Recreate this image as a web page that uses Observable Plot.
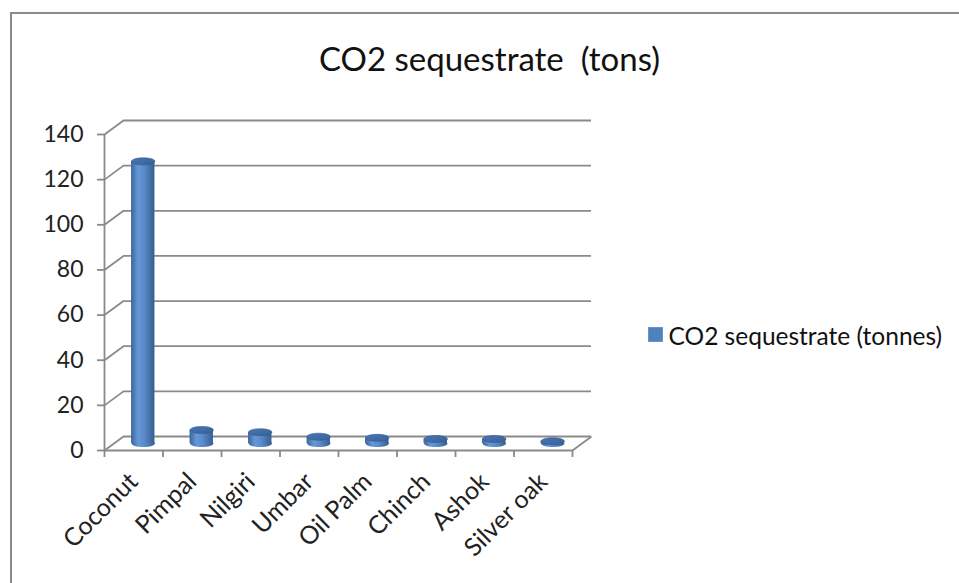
<!DOCTYPE html>
<html>
<head>
<meta charset="utf-8">
<script src="https://cdn.jsdelivr.net/npm/d3@7"></script>
<script src="https://cdn.jsdelivr.net/npm/@observablehq/plot@0.6"></script>
<style>
  html, body { margin: 0; padding: 0; background: #fff; }
  #wrap { position: relative; width: 959px; height: 583px; overflow: hidden; }
  #border { position: absolute; left: 10px; top: 12px; width: 960px; height: 580px;
            border-top: 2.5px solid #8a8a8a; border-left: 2.5px solid #8a8a8a; box-sizing: border-box; pointer-events: none; }
  #wrap svg { position: absolute; left: 0; top: 0; }
</style>
</head>
<body>
<div id="wrap"><div id="border"></div></div>
<script>
const categories = ["Coconut", "Pimpal", "Nilgiri", "Umbar", "Oil Palm", "Chinch", "Ashok", "Silver oak"];
const values = [125, 6, 5, 3, 2.5, 2, 2, 1];
const yTicks = [0, 20, 40, 60, 80, 100, 120, 140];
const title = "CO2 sequestrate  (tons)";
const seriesName = "CO2 sequestrate (tonnes)";

const data = categories.map((c, i) => ({cat: c, i, value: values[i]}));
const bounds = d3.range(categories.length + 1);

// depth offsets (3-D look)
const backDx = 19, backDy = -14, midDx = 9.5, midDy = -7;
const grid = "#8a8a8a";
const font = "Lato, 'Open Sans', sans-serif";

const ellipse = {
  draw(ctx, size) {
    const r = Math.sqrt(size / Math.PI), rx = r, ry = r * 0.3, k = 0.5523;
    ctx.moveTo(rx, 0);
    ctx.bezierCurveTo(rx, ry * k, rx * k, ry, 0, ry);
    ctx.bezierCurveTo(-rx * k, ry, -rx, ry * k, -rx, 0);
    ctx.bezierCurveTo(-rx, -ry * k, -rx * k, -ry, 0, -ry);
    ctx.bezierCurveTo(rx * k, -ry, rx, -ry * k, rx, 0);
    ctx.closePath();
  }
};

function defs() {
  const ns = "http://www.w3.org/2000/svg";
  const d = document.createElementNS(ns, "defs");
  d.innerHTML = `
    <linearGradient id="cyl" x1="0" x2="1" y1="0" y2="0">
      <stop offset="0" stop-color="#3d659c"/>
      <stop offset="0.3" stop-color="#6598d6"/>
      <stop offset="0.55" stop-color="#5a8bcb"/>
      <stop offset="1" stop-color="#385d90"/>
    </linearGradient>
    <linearGradient id="cap" x1="0" x2="1" y1="0" y2="1">
      <stop offset="0" stop-color="#4a78b4"/>
      <stop offset="1" stop-color="#365f97"/>
    </linearGradient>`;
  return d;
}

function diagonal() {
  return function(index, scales, values, dims, ctx, next) {
    const g = next(index, scales, values, dims, ctx);
    d3.select(g).selectAll("path").attr("d", function() {
      const m = this.getAttribute("d").match(/M([\d.\-]+),([\d.\-]+)/);
      const x = +m[1], y = +m[2];
      return `M${x},${y}L${x + backDx},${y + backDy}`;
    });
    return g;
  };
}

const chart = Plot.plot({
  width: 959,
  height: 583,
  marginLeft: 104,
  marginRight: 387,
  marginTop: 134,
  marginBottom: 133,
  style: {fontFamily: font, background: "transparent", overflow: "visible"},
  x: {type: "linear", domain: [0, categories.length], axis: null},
  y: {domain: [0, 140], axis: null},
  marks: [
    defs,
    // back wall gridlines
    Plot.ruleY(yTicks, {y: d => d, x1: 0, x2: categories.length, dx: backDx, dy: backDy, stroke: grid, strokeWidth: 1.8}),
    // left wall diagonals
    Plot.link(yTicks, {x1: 0, x2: 0, y1: d => d, y2: d => d, stroke: grid, strokeWidth: 1.8, render: diagonal()}),
    // floor right diagonal
    Plot.link([0], {x1: categories.length, x2: categories.length, y1: 0, y2: 0, stroke: grid, strokeWidth: 1.8, render: diagonal()}),
    // front floor edge and front y axis line
    Plot.ruleY([0], {x1: 0, x2: categories.length, stroke: grid, strokeWidth: 1.8}),
    Plot.ruleX([0], {y1: 0, y2: 140, stroke: grid, strokeWidth: 1.8}),
    // x tick marks
    Plot.ruleX(bounds, {x: d => d, y1: 0, y2: 0, insetBottom: -7, stroke: grid, strokeWidth: 1.8}),
    // y ticks and labels
    Plot.axisY({ticks: yTicks, tickSize: 7, tickPadding: 14, stroke: grid, strokeWidth: 1.8, fill: "#222", fontSize: 23, anchor: "left", label: null}),
    // cylinders: bottom, body, top
    Plot.dot(data, {x: d => d.i + 0.5, y: 0, r: 11.7, symbol: ellipse, fill: "url(#cyl)", stroke: "none", dx: midDx, dy: midDy}),
    Plot.rectY(data, {x1: d => d.i + 0.3, x2: d => d.i + 0.7, y1: 0, y2: "value", fill: "url(#cyl)", dx: midDx, dy: midDy}),
    Plot.dot(data, {x: d => d.i + 0.5, y: "value", r: 11.7, symbol: ellipse, fill: "url(#cap)", stroke: "#335a8e", strokeWidth: 0.6, dx: midDx, dy: midDy}),
    // category labels
    Plot.text(data, {x: d => d.i + 0.5, y: 0, text: "cat", rotate: -45, textAnchor: "end", fontSize: 25, fill: "#222", dx: 0, dy: 27}),
    // title
    Plot.text([title], {frameAnchor: "top-left", text: d => d, fontSize: 33, fill: "#111", textAnchor: "middle", dx: 385, dy: -87}),
    // legend
    Plot.dot([seriesName], {frameAnchor: "top-left", symbol: "square", r: 8.3, fill: "#4f81bd", dx: 551, dy: 200}),
    Plot.text([seriesName], {frameAnchor: "top-left", text: d => d, fontSize: 24.5, fill: "#111", textAnchor: "start", dx: 564, dy: 193})
  ]
});

document.getElementById("wrap").prepend(chart);
</script>
</body>
</html>
